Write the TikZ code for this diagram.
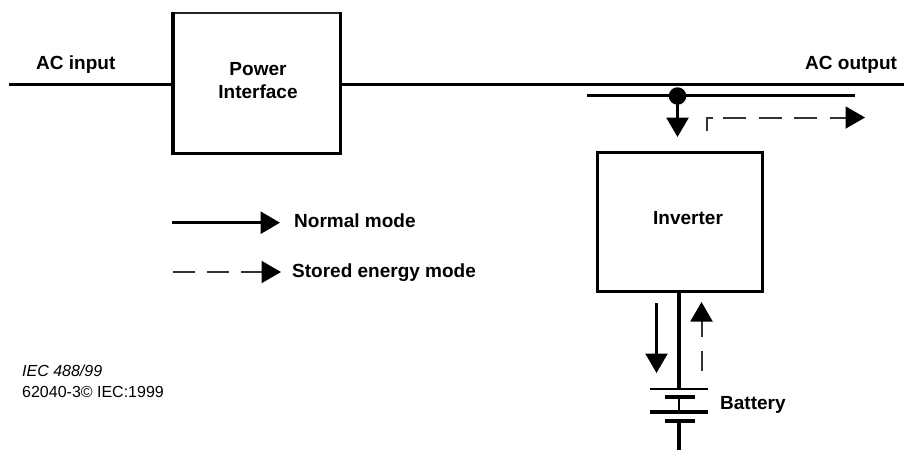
\documentclass[tikz,border=0pt]{standalone}
\usepackage{fontspec}
\setmainfont{Liberation Sans}
\usetikzlibrary{arrows.meta}
\definecolor{dashgrey}{gray}{0.2}
\tikzset{
  boxnode/.style={inner sep=0pt},
  bold/.style={font=\fontsize{19}{23}\selectfont\bfseries,inner sep=0pt,anchor=base west,text=black},
  small/.style={font=\fontsize{16}{18}\selectfont,inner sep=0pt,anchor=base west,text=black},
  wire/.style={line width=3pt},
  plate/.style={line width=4pt},
  headed/.style={-{Triangle[length=19.5pt,width=22pt]}},
  dashline/.style={line width=2pt,draw=dashgrey},
  dashhead/.style={-{Triangle[length=19.5pt,width=22pt,fill=black,color=black]}},
}
\begin{document}
\begin{tikzpicture}[x=1pt,y=-1pt]
\useasboundingbox (0,0) rectangle (904,451);
% boxes
\node[boxnode,minimum width=167pt,minimum height=140pt] (power) at (256.5,83.5) {};
\draw[line width=2.2pt,draw=black!85] ([xshift=-2pt]power.north west) -- ([xshift=1.5pt]power.north east);
\draw[line width=3pt] ([xshift=-1.5pt]power.south west) -- ([xshift=1.5pt]power.south east);
\draw[line width=4pt] ([yshift=1pt]power.north west) -- ([yshift=-1.5pt]power.south west);
\draw[line width=3pt] ([yshift=1pt]power.north east) -- ([yshift=-1.5pt]power.south east);
\node[bold,anchor=center,align=center] (powertext) at (258,80.7) {Power\\Interface};
\node[draw=black,line width=2.8pt,inner sep=0pt,minimum width=165.4pt,minimum height=139.4pt] (inverter) at (680,222) {};
\node[bold] (invertertext) at (653,224.3) {Inverter};
% main line
\coordinate (acin) at (8.5,84.5);
\coordinate (acout) at (904,84.5);
\draw[wire] (acin) -- (acin -| power.west);
\draw[wire] (power.east |- acout) -- (acout);
\node[bold] (acinlabel) at (36,69.8) {AC input};
\node[bold] (acoutlabel) at (805,69.5) {AC output};
% tap
\coordinate (busl) at (587,95.5);
\coordinate (busr) at (855,95.5);
\draw[wire] (busl) -- (busr);
\node[circle,fill=black,minimum size=17.5pt,inner sep=0pt] (dot) at (677.5,96) {};
\coordinate (tapend) at (677.5,137);
\draw[wire,headed] (dot.center) -- (tapend);
% dashed output arrow
\coordinate (ds) at (706.5,131);
\coordinate (dc) at (706.5,117.5);
\coordinate (ds1) at (713,117.5);
\draw[dashline] (ds) -- (dc) -- (ds1);
\coordinate (ds2) at (723,117.5);
\coordinate (de) at (865,117.5);
\draw[dashline,dash pattern=on 23pt off 12.5pt,dashhead] (ds2) -- (de);
% battery
\coordinate (p1) at (679,389);
\coordinate (p2) at (679,397);
\coordinate (p3) at (679,412);
\coordinate (p4) at (679,421);
\coordinate (bend) at (679,450);
\draw[line width=4pt] (inverter.south -| p1) -- (p1);
\draw[line width=2.5pt] (650,389) -- (708,389);
\draw[plate] (665,397) -- (695,397);
\draw[line width=2pt] (p2) -- (p3);
\draw[plate] (650,412) -- (708,412);
\draw[plate] (665,421) -- (695,421);
\draw[line width=3.5pt] (p4) -- (bend);
\node[bold] (batt) at (720,409.3) {Battery};
% battery arrows
\coordinate (da) at (656.5,303);
\coordinate (db) at (656.5,373);
\draw[line width=2.5pt,headed] (da) -- (db);
\coordinate (ua) at (701.5,371);
\coordinate (ub) at (701.5,302);
\draw[dashline,dash pattern=on 20pt off 14pt,dashhead] (ua) -- (ub);
% legend
\coordinate (n1) at (172,222.7);
\coordinate (n2) at (280,222.7);
\draw[wire,headed] (n1) -- (n2);
\node[bold] (normal) at (294,227.7) {Normal mode};
\coordinate (s1) at (173,272);
\coordinate (s2) at (281,272);
\draw[dashline,dash pattern=on 22pt off 12pt,dashhead] (s1) -- (s2);
\node[bold] (stored) at (292,277.7) {Stored energy mode};
% captions
\node[small,font=\fontsize{16}{18}\selectfont\itshape] (iec) at (22,376.7) {IEC 488/99};
\node[small] (copy) at (22,397.7) {62040-3© IEC:1999};
\end{tikzpicture}
\end{document}
